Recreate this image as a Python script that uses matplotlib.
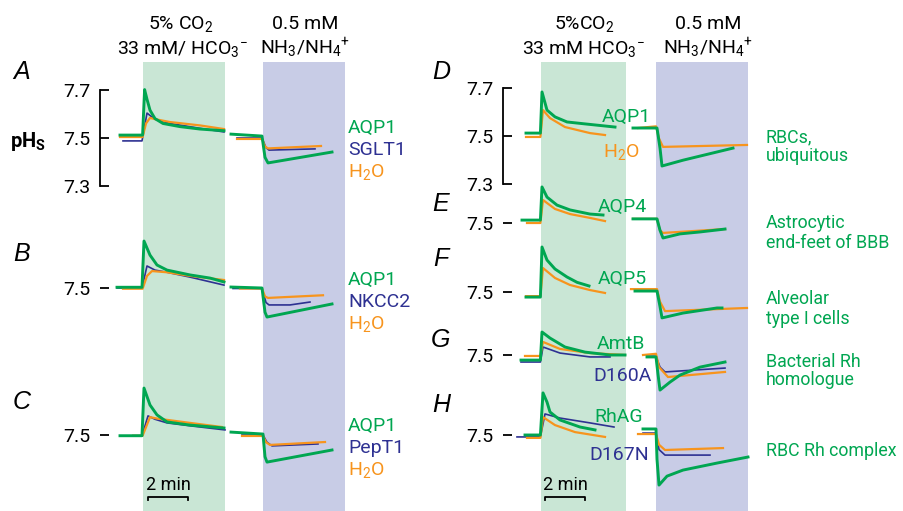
import matplotlib
matplotlib.use("Agg")
import matplotlib.pyplot as plt

plt.rcParams['font.family'] = ['Roboto', 'Liberation Sans', 'DejaVu Sans']
plt.rcParams['mathtext.fontset'] = 'custom'
plt.rcParams['mathtext.rm'] = 'Roboto'
plt.rcParams['mathtext.it'] = 'Roboto:italic'
plt.rcParams['mathtext.bf'] = 'Roboto:bold'

GREEN = "#00a651"
BLUE = "#2e3192"
ORANGE = "#f7941d"
GREEN_BAND = "#c9e6d5"
BLUE_BAND = "#c8cce6"

# ---- data: time (min from CO2 onset), surface pH ----
# each trace: (times, pH values)
A_co2 = {
    'blue': ([-1.0, -0.05, 0.2, 0.4, 0.6, 1.35, 2.85, 4.05], [7.488, 7.488, 7.603, 7.59, 7.578, 7.56, 7.54, 7.525]),
    'orange': ([-1.15, -0.02, 0.15, 0.35, 0.6, 1.35, 2.85, 4.05], [7.504, 7.504, 7.56, 7.583, 7.578, 7.566, 7.552, 7.537]),
    'green': ([-1.15, -0.02, 0.08, 0.2, 0.35, 0.6, 1.0, 1.85, 2.85, 4.05], [7.512, 7.512, 7.70, 7.66, 7.615, 7.58, 7.56, 7.547, 7.537, 7.53]),
}
A_nh3 = {
    'blue': ([4.7, 5.95, 6.15, 6.3, 8.6], [7.50, 7.50, 7.46, 7.45, 7.455]),
    'orange': ([4.7, 5.95, 6.1, 6.25, 8.9], [7.496, 7.496, 7.465, 7.457, 7.467]),
    'green': ([4.4, 5.95, 6.1, 6.25, 9.45], [7.516, 7.508, 7.42, 7.397, 7.442]),
}
B_co2 = {
    'blue': ([-1.3, -0.05, 0.2, 0.6, 1.2, 2.35, 4.05], [7.50, 7.50, 7.591, 7.574, 7.565, 7.545, 7.512]),
    'orange': ([-1.0, -0.02, 0.2, 0.45, 1.2, 2.35, 4.05], [7.497, 7.497, 7.55, 7.57, 7.565, 7.55, 7.533]),
    'green': ([-1.3, -0.05, 0.05, 0.35, 0.7, 1.2, 2.35, 3.35, 4.05], [7.503, 7.503, 7.694, 7.636, 7.595, 7.574, 7.554, 7.541, 7.525]),
}
B_nh3 = {
    'blue': ([4.5, 5.95, 6.15, 6.3, 7.35, 8.35], [7.498, 7.498, 7.44, 7.43, 7.43, 7.442]),
    'orange': ([4.85, 5.95, 6.1, 6.25, 9.0], [7.498, 7.498, 7.465, 7.459, 7.47]),
    'green': ([4.4, 5.95, 6.1, 6.2, 9.45], [7.504, 7.50, 7.40, 7.38, 7.434]),
}
C_co2 = {
    'blue': ([-0.5, -0.05, 0.25, 0.6, 1.2, 2.35, 4.1], [7.497, 7.497, 7.579, 7.565, 7.55, 7.538, 7.521]),
    'orange': ([-0.5, -0.02, 0.35, 0.7, 2.35, 3.95], [7.497, 7.497, 7.574, 7.568, 7.55, 7.533]),
    'green': ([-1.15, -0.05, 0.05, 0.35, 0.7, 1.2, 2.35, 4.05], [7.497, 7.497, 7.694, 7.624, 7.583, 7.554, 7.541, 7.529]),
}
C_nh3 = {
    'blue': ([4.95, 6.0, 6.2, 6.45, 8.75], [7.50, 7.50, 7.47, 7.455, 7.463]),
    'orange': ([4.95, 6.0, 6.15, 6.35, 9.1], [7.496, 7.496, 7.47, 7.459, 7.471]),
    'green': ([4.4, 6.0, 6.1, 6.2, 9.45], [7.512, 7.504, 7.41, 7.388, 7.438]),
}
D_co2 = {
    'orange': ([-0.75, -0.03, 0.1, 0.45, 1.2, 2.45, 3.2], [7.496, 7.496, 7.607, 7.574, 7.537, 7.512, 7.504]),
    'green': ([-0.75, -0.03, 0.05, 0.3, 0.7, 1.3, 2.2, 3.7], [7.512, 7.512, 7.682, 7.607, 7.579, 7.558, 7.55, 7.537]),
}
D_nh3 = {
    'orange': ([4.85, 5.75, 5.9, 6.1, 10.3], [7.533, 7.54, 7.49, 7.455, 7.463]),
    'green': ([4.6, 5.8, 5.95, 6.05, 7.1, 8.8, 9.6], [7.533, 7.533, 7.45, 7.376, 7.40, 7.434, 7.45]),
}
E_co2 = {
    'orange': ([-0.7, -0.03, 0.1, 0.7, 1.45, 2.45, 3.2], [7.50, 7.50, 7.595, 7.558, 7.537, 7.521, 7.508]),
    'green': ([-0.95, -0.03, 0.05, 0.3, 0.8, 1.45, 2.45, 3.1], [7.512, 7.512, 7.649, 7.607, 7.574, 7.554, 7.537, 7.533]),
}
E_nh3 = {
    'orange': ([4.6, 5.8, 5.95, 6.1, 9.2], [7.517, 7.517, 7.47, 7.459, 7.475]),
    'green': ([4.6, 5.8, 5.95, 6.1, 6.95, 7.95, 9.2], [7.517, 7.517, 7.47, 7.438, 7.455, 7.463, 7.475]),
}
F_co2 = {
    'orange': ([-0.75, -0.03, 0.1, 0.7, 1.45, 2.45, 3.2], [7.483, 7.483, 7.599, 7.558, 7.529, 7.508, 7.496]),
    'green': ([-0.75, -0.03, 0.05, 0.3, 0.7, 1.3, 1.8, 2.4], [7.479, 7.479, 7.686, 7.632, 7.595, 7.562, 7.54, 7.525]),
}
F_nh3 = {
    'orange': ([4.5, 5.8, 5.95, 6.2, 10.3], [7.512, 7.512, 7.46, 7.421, 7.434]),
    'green': ([4.7, 5.8, 5.95, 6.05, 7.1, 8.8, 9.05], [7.504, 7.504, 7.44, 7.393, 7.413, 7.434, 7.434]),
}
G_co2 = {
    'blue': ([-1.0, -0.03, 0.1, 0.95, 2.45, 3.45], [7.471, 7.471, 7.533, 7.508, 7.492, 7.492]),
    'orange': ([-0.8, -0.03, 0.1, 0.95, 2.45, 4.2], [7.496, 7.496, 7.554, 7.525, 7.508, 7.50]),
    'green': ([-1.0, -0.03, 0.05, 0.45, 1.2, 2.2, 3.45, 4.2], [7.479, 7.479, 7.595, 7.57, 7.533, 7.512, 7.50, 7.50]),
}
G_nh3 = {
    'blue': ([5.3, 5.75, 5.95, 6.2, 9.2], [7.495, 7.495, 7.45, 7.43, 7.446]),
    'orange': ([5.1, 5.75, 5.9, 6.35, 9.2], [7.50, 7.505, 7.45, 7.409, 7.43]),
    'green': ([5.3, 5.75, 5.85, 5.95, 6.45, 6.95, 7.95, 9.2], [7.492, 7.492, 7.42, 7.355, 7.388, 7.417, 7.45, 7.471]),
}
H_co2 = {
    'blue': ([-1.2, -0.03, 0.2, 0.95, 2.45, 3.65], [7.492, 7.492, 7.587, 7.57, 7.55, 7.533]),
    'orange': ([-0.7, -0.03, 0.1, 0.7, 1.7, 3.2], [7.488, 7.488, 7.574, 7.541, 7.512, 7.492]),
    'green': ([-0.8, -0.03, 0.1, 0.3, 0.45, 0.95, 1.95, 2.7], [7.50, 7.50, 7.674, 7.636, 7.595, 7.562, 7.533, 7.521]),
}
H_nh3 = {
    'blue': ([5.1, 5.75, 5.9, 6.2, 8.45], [7.508, 7.508, 7.44, 7.417, 7.417]),
    'orange': ([4.85, 5.75, 5.9, 6.2, 9.1], [7.504, 7.504, 7.46, 7.438, 7.446]),
    'green': ([5.1, 5.75, 5.8, 5.9, 6.3, 7.1, 8.8, 10.35], [7.525, 7.525, 7.40, 7.293, 7.33, 7.355, 7.384, 7.409]),
}

# trace labels per panel (text, colour)
A_labels = [("AQP1", GREEN), ("SGLT1", BLUE), ("H$_2$O", ORANGE)]
B_labels = [("AQP1", GREEN), ("NKCC2", BLUE), ("H$_2$O", ORANGE)]
C_labels = [("AQP1", GREEN), ("PepT1", BLUE), ("H$_2$O", ORANGE)]

colors = {'green': GREEN, 'blue': BLUE, 'orange': ORANGE}
widths = {'green': 2.1, 'blue': 1.2, 'orange': 1.6}

W, H = 904, 511
fig = plt.figure(figsize=(W / 100, H / 100), dpi=100)


def px_axes(x0, ytop, x1, ybot):
    return fig.add_axes([x0 / W, 1 - ybot / H, (x1 - x0) / W, (ybot - ytop) / H])


def ftext(x, y, s, **kw):
    fig.text(x / W, 1 - y / H, s, **kw)


def column_bg(x0, co2_band, nh3_band, bar):
    ax = px_axes(x0, 0, x0 + 300, H)
    ax.set_xlim(-4, 11)
    ax.set_ylim(H, 0)
    ax.axis('off')
    ax.axvspan(*co2_band, ymin=0, ymax=(H - 62) / H, color=GREEN_BAND, lw=0)
    ax.axvspan(*nh3_band, ymin=0, ymax=(H - 62) / H, color=BLUE_BAND, lw=0)
    # 2 min scale bar
    ax.plot([bar, bar, bar + 2, bar + 2], [500, 497, 497, 500], color='k', lw=1.3)
    ax.text(bar + 1, 490, "2 min", ha='center', va='baseline', fontsize=13)


def panel(x0, y0, spine_t, segs, bracket=False):
    ax = px_axes(x0, y0 - 72.6, x0 + 300, y0 + 72.6)
    ax.set_xlim(-4, 11)
    ax.set_ylim(7.2, 7.8)
    ax.patch.set_alpha(0)
    for s in ['top', 'right', 'bottom']:
        ax.spines[s].set_visible(False)
    ax.set_xticks([])
    ax.spines['left'].set_position(('data', spine_t))
    if bracket:
        ax.spines['left'].set_bounds(7.3, 7.7)
        ax.spines['left'].set_linewidth(1.3)
        ax.set_yticks([7.3, 7.5, 7.7])
        ax.set_yticklabels(["7.3", "7.5", "7.7"])
    else:
        ax.spines['left'].set_visible(False)
        ax.set_yticks([7.5])
        ax.set_yticklabels(["7.5"])
    ax.tick_params(axis='y', direction='in', length=6.5, width=1.3, pad=7, labelsize=14)
    for seg in segs:
        for key in ['blue', 'orange', 'green']:
            if key in seg:
                t, ph = seg[key]
                ax.plot(t, ph, color=colors[key], lw=widths[key], solid_joinstyle='round', clip_on=False)
    return ax


# left column
column_bg(63, (0, 4.1), (6.0, 10.1), 0.25)
panel(63, 138, -2.15, [A_co2, A_nh3], bracket=True)
panel(63, 288, -2.15, [B_co2, B_nh3])
panel(63, 435, -2.15, [C_co2, C_nh3])

# right column
column_bg(461, (0, 4.25), (5.75, 10.35), 0.2)
panel(461, 136, -1.9, [D_co2, D_nh3], bracket=True)
panel(461, 223, -1.9, [E_co2, E_nh3])
panel(461, 292, -1.9, [F_co2, F_nh3])
panel(461, 355, -1.9, [G_co2, G_nh3])
panel(461, 435, -1.9, [H_co2, H_nh3])

# headers
hdr = dict(ha='center', va='baseline', fontsize=14)
ftext(181, 29, "5% CO$_2$", **hdr)
ftext(182, 54, "33 mM/ HCO$_3{}^{-}$", **hdr)
ftext(305, 29, "0.5 mM", **hdr)
ftext(305, 54, "NH$_3$/NH$_4{}^{+}$", **hdr)
ftext(584, 29, "5%CO$_2$", **hdr)
ftext(583, 54, "33 mM HCO$_3{}^{-}$", **hdr)
ftext(708, 29, "0.5 mM", **hdr)
ftext(708, 54, "NH$_3$/NH$_4{}^{+}$", **hdr)

# panel letters
for letter, x, y in [("A", 22, 72), ("B", 22, 254), ("C", 22, 402),
                     ("D", 441, 72), ("E", 441, 204), ("F", 441, 259),
                     ("G", 441, 340), ("H", 441, 405)]:
    ftext(x, y, letter, ha='center', va='center', fontsize=18, style='italic',
          family=['Liberation Sans', 'DejaVu Sans'])

ftext(28, 147, r"$\mathbf{pH_S}$", ha='center', va='baseline', fontsize=14.5)

# trace labels, left column
lab = dict(ha='left', va='baseline', fontsize=14)
for labels, bases in [(A_labels, [133, 155, 177]), (B_labels, [285, 307, 329]),
                      (C_labels, [431, 453, 475])]:
    for (s, c), yb in zip(labels, bases):
        ftext(348, yb, s, color=c, **lab)

# trace labels, right column
for s, c, x, yb in [("AQP1", GREEN, 602, 122), ("H$_2$O", ORANGE, 603, 157),
                    ("AQP4", GREEN, 598, 212), ("AQP5", GREEN, 598, 284),
                    ("AmtB", GREEN, 597, 349), ("D160A", BLUE, 593, 381),
                    ("RhAG", GREEN, 594, 422), ("D167N", BLUE, 589, 460)]:
    ftext(x, yb, s, color=c, **lab)

# cell-type descriptions
desc = dict(ha='left', va='baseline', fontsize=12.8)
for s, yb in [("RBCs,", 142), ("ubiquitous", 161), ("Astrocytic", 228),
              ("end-feet of BBB", 248), ("Alveolar", 304), ("type I cells", 324),
              ("Bacterial Rh", 367), ("homologue", 385), ("RBC Rh complex", 456)]:
    ftext(766, yb, s, color=GREEN, **desc)

fig.savefig("out.png", dpi=100)
